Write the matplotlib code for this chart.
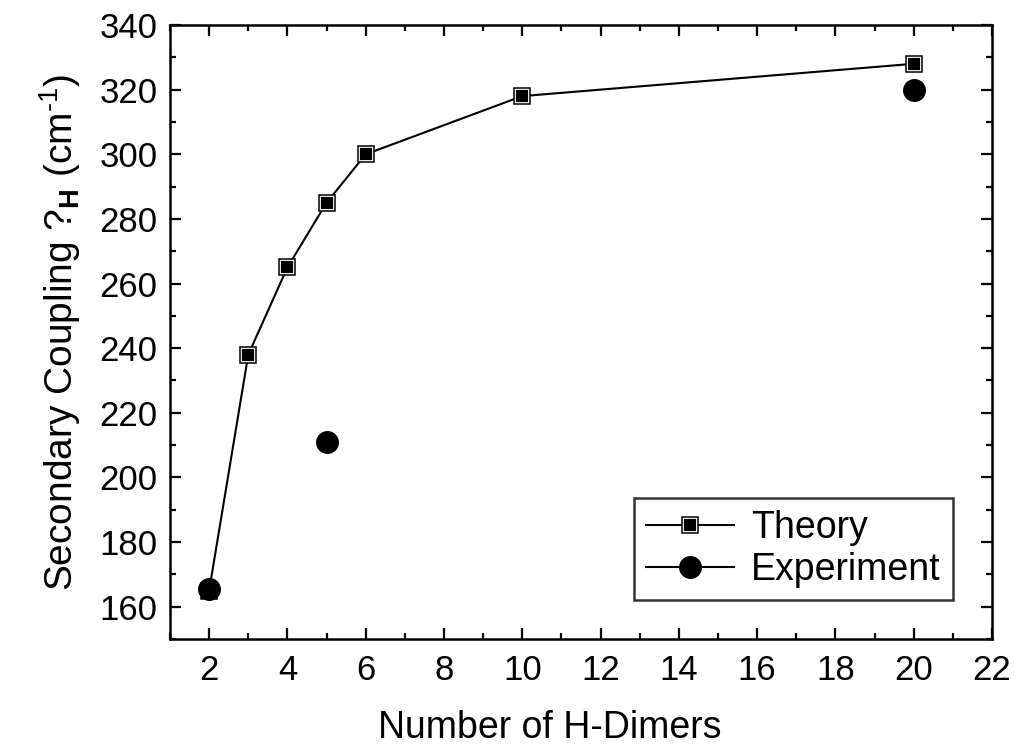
import matplotlib
matplotlib.use("Agg")
import matplotlib.pyplot as plt
from matplotlib.lines import Line2D
from matplotlib.ticker import MultipleLocator

plt.rcParams['font.family'] = ['Liberation Sans', 'DejaVu Sans']
plt.rcParams['mathtext.fontset'] = 'custom'
plt.rcParams['mathtext.rm'] = 'Liberation Sans'
plt.rcParams['mathtext.bf'] = 'Liberation Sans:bold'

theory_x = [2, 3, 4, 5, 6, 10, 20]
theory_y = [165, 238, 265, 285, 300, 318, 328]
exp_x = [2, 5, 20]
exp_y = [165.5, 211, 320]
xticks = [2, 4, 6, 8, 10, 12, 14, 16, 18, 20, 22]
yticks = [160, 180, 200, 220, 240, 260, 280, 300, 320, 340]

fig = plt.figure(figsize=(10.15, 7.44), dpi=100)
ax = fig.add_axes([170/1015, 1-639/744, (992-170)/1015, (639-25)/744])

ax.plot(theory_x, theory_y, '-', color='black', lw=1.5, zorder=2)
ax.plot(theory_x, theory_y, 's', ms=10, mfc='black', mec='white', mew=1.3, ls='none', zorder=3)
ax.plot(theory_x, theory_y, 's', ms=11.8, mfc='none', mec='black', mew=1.1, ls='none', zorder=4)
ax.plot(exp_x, exp_y, 'o', ms=15.5, color='black', ls='none', zorder=5)

ax.set_xlim(1, 22)
ax.set_ylim(150, 340)
ax.set_xticks(xticks)
ax.set_yticks(yticks)
ax.xaxis.set_minor_locator(MultipleLocator(1))
ax.yaxis.set_minor_locator(MultipleLocator(10))
ax.tick_params(which='both', direction='in', top=True, right=True, width=1.6)
ax.tick_params(which='major', length=8, labelsize=25)
ax.tick_params(axis='x', which='major', pad=11)
ax.tick_params(axis='y', which='major', pad=9)
ax.tick_params(which='minor', length=4)
for s in ax.spines.values():
    s.set_linewidth(1.8)

ax.set_xlabel('Number of H-Dimers', fontsize=27, va='baseline')
ax.xaxis.set_label_coords((550 - 170) / 822, (639 - 738) / 614)
ax.set_ylabel(r'Secondary Coupling ?$_{\mathbf{H}}$ (cm$^{\text{-1}}$)', fontsize=28, labelpad=12)

h1a = Line2D([], [], color='black', lw=1.5)
h1b = Line2D([], [], ls='none', marker='s', ms=10, mfc='black', mec='white', mew=1.3)
h1c = Line2D([], [], ls='none', marker='s', ms=11.8, mfc='none', mec='black', mew=1.1)
h2 = Line2D([], [], color='black', lw=1.5, marker='o', ms=15.5, mfc='black', mec='black')
leg = ax.legend([(h1a, h1b, h1c), h2], ['Theory', 'Experiment'], loc='lower right',
                bbox_to_anchor=(0.953, 0.063), fontsize=27, frameon=True,
                fancybox=False, edgecolor='black', handlelength=2.35,
                handletextpad=0.45, borderpad=0.33, labelspacing=0.15,
                borderaxespad=0)
leg.get_frame().set_linewidth(1.8)

fig.savefig('out.png', dpi=100)
